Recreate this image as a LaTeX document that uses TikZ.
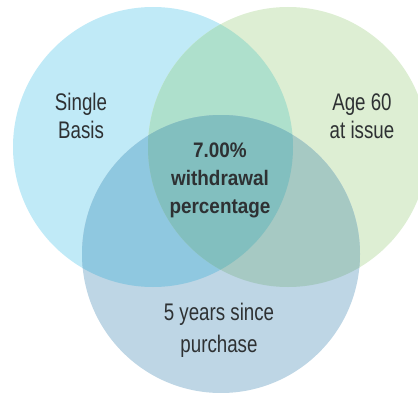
\documentclass[tikz,border=0pt]{standalone}
\usepackage{fontspec}
\newfontfamily\vennfont{Liberation Sans}[FakeStretch=0.78]
\newfontfamily\vennboldfont{Liberation Sans}[FakeStretch=0.9]
\definecolor{singlecol}{HTML}{C0EAF7}
\definecolor{agecol}{HTML}{DDEED3}
\definecolor{yearscol}{HTML}{BED6E5}
\definecolor{singleage}{HTML}{AEE0CC}
\definecolor{singleyears}{HTML}{8FC8E0}
\definecolor{ageyears}{HTML}{A6C9C3}
\definecolor{allthree}{HTML}{82BFBF}
\definecolor{textcol}{HTML}{2E3133}
\tikzset{
  venntext/.style={align=center,text=textcol,font=\vennfont\fontsize{24}{28}\selectfont},
  venntextbold/.style={align=center,text=textcol,font=\vennboldfont\bfseries\fontsize{21}{28}\selectfont}
}

\begin{document}
\begin{tikzpicture}[x=1pt,y=1pt]
\useasboundingbox (0,0) rectangle (418,392);
\clip (0,0) rectangle (418,392);
\coordinate (single) at (153,245);
\coordinate (age) at (288,245);
\coordinate (years) at (221,138);
% the three sets
\fill [singlecol] (single) circle (140pt);
\fill [agecol] (age) circle (140pt);
\fill [yearscol] (years) circle (139pt);
% overlaps
\begin{scope}
\clip (single) circle (140pt);
\fill [singleage] (age) circle (140pt);
\fill [singleyears] (years) circle (139pt);
\end{scope}
\begin{scope}
\clip (age) circle (140pt);
\fill [ageyears] (years) circle (139pt);
\clip (years) circle (139pt);
\fill [allthree] (single) circle (140pt);
\end{scope}
% labels
\node [venntext] (singlebasis) at (81,276) {Single\\Basis};
\node [venntext] (agesixty) at (362,276) {Age 60\\at issue};
\node [venntextbold] (withdrawal) at (220,212) {7.00\%\\withdrawal\\percentage};
\node [venntext,font=\vennfont\fontsize{24}{32}\selectfont] (purchase) at (219,62) {5 years since\\purchase};
\end{tikzpicture}
\end{document}
